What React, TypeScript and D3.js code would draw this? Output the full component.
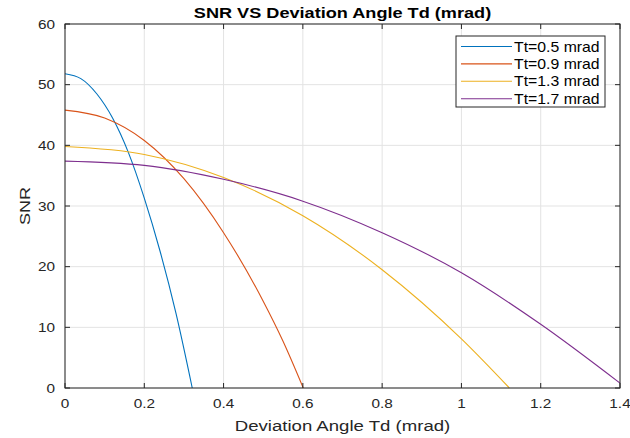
import React, { useEffect, useRef } from "react";
import * as d3 from "d3";

// Values (x in mrad, SNR)
const seriesNames = ["Tt=0.5 mrad", "Tt=0.9 mrad", "Tt=1.3 mrad", "Tt=1.7 mrad"];
const seriesColors = ["#0072BD", "#D95319", "#EDB120", "#7E2F8E"];

const tt05X = [0, 0.04, 0.08, 0.12, 0.16, 0.2, 0.24, 0.28, 0.321];
const tt05Y = [51.8, 51.0, 48.5, 44.5, 38.8, 31.3, 22.5, 12.3, 0];

const tt09X = [0, 0.1, 0.2, 0.3, 0.4, 0.5, 0.55, 0.601];
const tt09Y = [45.8, 44.5, 40.8, 34.5, 25.6, 14.3, 7.7, 0];

const tt13X = [0, 0.2, 0.4, 0.6, 0.8, 1.0, 1.121];
const tt13Y = [39.8, 38.5, 34.7, 28.4, 19.5, 8.1, 0];

const tt17X = [0, 0.2, 0.4, 0.6, 0.8, 1.0, 1.2, 1.4];
const tt17Y = [37.4, 36.7, 34.4, 30.8, 25.6, 19.0, 10.5, 0.8];

const xTicks = [0, 0.2, 0.4, 0.6, 0.8, 1, 1.2, 1.4];
const yTicks = [0, 10, 20, 30, 40, 50, 60];

const App = () => {
  const svgRef = useRef<SVGSVGElement>(null);
  const width = 630;
  const height = 438;

  useEffect(() => {
    const margin = { top: 24, right: 10, bottom: 50, left: 65 };
    const svg = d3.select(svgRef.current);
    svg.selectAll("*").remove();

    const innerWidth = 620 - margin.left;
    const innerHeight = 388 - margin.top;
    const font = "'Liberation Sans', Arial, sans-serif";
    const axisColor = "#262626";

    const x = d3.scaleLinear().domain([0, 1.4]).range([0, innerWidth]);
    const y = d3.scaleLinear().domain([0, 60]).range([innerHeight, 0]);

    // the reference text looks stretched sideways, so scale it a bit
    const addText = (parent: any, tx: number, ty: number, str: string, size: number, sx: number, anchor = "start", extra = "") =>
      parent
        .append("text")
        .attr("transform", `translate(${tx},${ty})${extra} scale(${sx},1)`)
        .attr("text-anchor", anchor)
        .style("font-family", font)
        .style("font-size", `${size}px`)
        .style("fill", axisColor)
        .text(str);

    const g = svg.append("g").attr("transform", `translate(${margin.left},${margin.top})`);

    // grid
    xTicks.forEach((t) => {
      g.append("line")
        .attr("x1", x(t)).attr("x2", x(t))
        .attr("y1", 0).attr("y2", innerHeight)
        .style("stroke", "#e3e3e3").style("stroke-width", 1);
    });
    yTicks.forEach((t) => {
      g.append("line")
        .attr("x1", 0).attr("x2", innerWidth)
        .attr("y1", y(t)).attr("y2", y(t))
        .style("stroke", "#e3e3e3").style("stroke-width", 1);
    });

    // curves
    const data = [
      tt05X.map((v, i) => [v, tt05Y[i]]),
      tt09X.map((v, i) => [v, tt09Y[i]]),
      tt13X.map((v, i) => [v, tt13Y[i]]),
      tt17X.map((v, i) => [v, tt17Y[i]]),
    ];
    const line = d3
      .line<number[]>()
      .x((d) => x(d[0]))
      .y((d) => y(d[1]))
      .curve(d3.curveMonotoneX);

    data.forEach((pts, i) => {
      g.append("path")
        .attr("d", line(pts))
        .attr("fill", "none")
        .style("stroke", seriesColors[i])
        .style("stroke-width", 1.1);
    });

    // box + ticks
    g.append("rect")
      .attr("x", 0).attr("y", 0)
      .attr("width", innerWidth).attr("height", innerHeight)
      .attr("fill", "none")
      .style("stroke", axisColor).style("stroke-width", 1);

    const tl = 5;
    xTicks.forEach((t) => {
      g.append("line").attr("x1", x(t)).attr("x2", x(t)).attr("y1", innerHeight).attr("y2", innerHeight - tl).style("stroke", axisColor);
      g.append("line").attr("x1", x(t)).attr("x2", x(t)).attr("y1", 0).attr("y2", tl).style("stroke", axisColor);
      addText(g, x(t), innerHeight + 20, String(t), 13, 1.18, "middle");
    });
    yTicks.forEach((t) => {
      g.append("line").attr("x1", 0).attr("x2", tl).attr("y1", y(t)).attr("y2", y(t)).style("stroke", axisColor);
      g.append("line").attr("x1", innerWidth).attr("x2", innerWidth - tl).attr("y1", y(t)).attr("y2", y(t)).style("stroke", axisColor);
      addText(g, -10, y(t) + 4.5, String(t), 13, 1.18, "end");
    });

    // title and axis labels
    addText(svg, margin.left + innerWidth / 2, 18, "SNR VS Deviation Angle Td (mrad)", 15, 1.21, "middle")
      .style("font-weight", "bold")
      .style("fill", "#000");

    addText(svg, margin.left + innerWidth / 2, 431, "Deviation Angle Td (mrad)", 15, 1.24, "middle");

    addText(svg, 30, margin.top + innerHeight / 2, "SNR", 15, 1.2, "middle", " rotate(-90)");

    // legend
    const lg = svg.append("g").attr("transform", "translate(456,36)");
    lg.append("rect")
      .attr("width", 149).attr("height", 71)
      .attr("fill", "#fff")
      .style("stroke", axisColor).style("stroke-width", 1);
    seriesNames.forEach((name, i) => {
      const cy = 10.5 + i * 17.4;
      lg.append("line")
        .attr("x1", 5).attr("x2", 56)
        .attr("y1", cy).attr("y2", cy)
        .style("stroke", seriesColors[i]).style("stroke-width", 1.1);
      addText(lg, 58, cy + 5, name, 14, 1.13).style("fill", "#000");
    });
  }, []);

  return (
    <div style={{ position: "absolute", left: 0, top: 0 }}>
      <svg ref={svgRef} width={width} height={height} style={{ display: "block", background: "#fff" }} />
    </div>
  );
};

export default App;
